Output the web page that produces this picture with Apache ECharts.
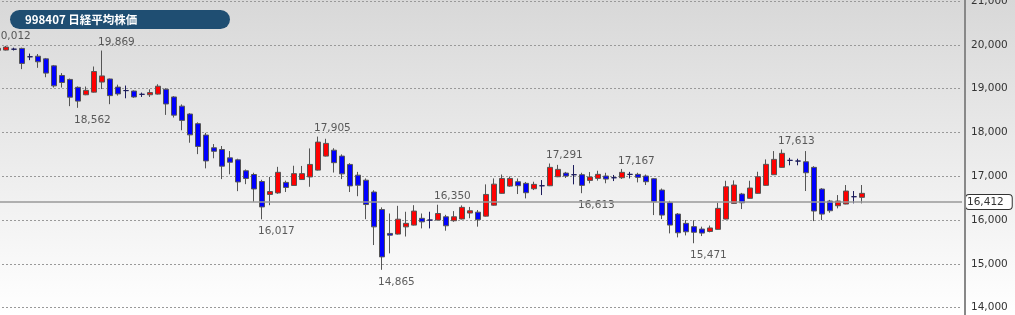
<!DOCTYPE html>
<html>
<head>
<meta charset="utf-8">
<script src="https://cdn.jsdelivr.net/npm/echarts@6/dist/echarts.min.js"></script>
<style>html,body{margin:0;padding:0;background:#fff}#c{width:1015px;height:315px}</style>
</head>
<body>
<div id="c"></div>
<script>
// OHLC values (one entry per candle)
const openP  = [19875,19880,19900,19918,19727,19740,19680,19520,19300,19210,19030,18860,18920,19150,19220,19035,18955,18945,18870,18860,18875,18985,18810,18600,18420,18200,17940,17650,17610,17420,17375,17125,17040,16880,16585,16620,16860,16790,16925,16985,17140,17460,17595,17460,17270,17025,16910,16640,16240,15695,15680,15845,15885,16040,16000,16000,16075,15985,16025,16160,16180,16090,16340,16610,16775,16875,16838,16715,16783,16783,16989,17073,17035,17035,16906,16952,17005,16966,16966,17043,17043,17005,16944,16685,16395,16137,15925,15850,15795,15740,15788,16023,16381,16594,16496,16610,16792,17035,17203,17363,17347,17331,17203,16708,16434,16327,16366,16533,16519];
const closeP = [19920,19948,19900,19575,19727,19613,19354,19063,19140,18805,18715,18960,19390,19290,18840,18880,18955,18810,18870,18910,19055,18650,18395,18275,17945,17680,17350,17570,17230,17320,16870,16950,16710,16300,16650,17090,16745,17060,17060,17270,17780,17750,17310,17055,16780,16795,16355,15845,15160,15655,16020,15925,16205,15960,16000,16150,15870,16075,16290,16213,16010,16585,16820,16950,16950,16785,16624,16815,16783,17203,17157,17005,17035,16792,16982,17043,16936,16966,17089,17043,16975,16875,16418,16114,15886,15710,15733,15722,15703,15820,16267,16760,16800,16395,16731,16989,17272,17385,17523,17363,17347,17080,16206,16137,16213,16434,16663,16533,16610];
const lowP   = [19860,19870,19870,19445,19650,19475,19260,19025,19025,18600,18562,18850,18910,18990,18645,18840,18780,18790,18810,18810,18865,18400,18340,18050,17765,17505,17180,17410,16935,17045,16660,16820,16415,16017,16340,16600,16640,16780,16915,16760,17130,17450,17085,16935,16640,16545,16020,15430,14865,15240,15670,15625,15875,15810,15810,15990,15757,15960,16015,16042,15850,16080,16330,16600,16760,16594,16495,16685,16571,16775,16980,16960,16815,16613,16838,16900,16840,16890,16940,16950,16860,16800,16114,16023,15696,15605,15650,15471,15635,15720,15780,16015,16370,16251,16490,16600,16785,17030,17195,17250,17250,16663,15977,16000,16167,16267,16360,16381,16381];
const highP  = [20012,19975,19935,19935,19800,19790,19700,19540,19354,19230,19050,19048,19505,19869,19230,19090,19070,18960,18910,18985,19100,19010,18830,18640,18440,18230,17990,17735,17690,17575,17400,17155,17080,16920,16985,17215,16900,17240,17235,17635,17905,17855,17640,17500,17300,17100,16950,16680,16290,16150,16325,16190,16340,16150,16190,16350,16120,16205,16335,16300,16230,16815,16950,17040,16995,16950,16870,16875,16913,17291,17260,17100,17256,17080,17096,17126,17080,17030,17167,17100,17080,17040,16960,16720,16440,16160,16000,15995,15850,15875,16395,16897,16906,16620,16897,17103,17385,17575,17613,17420,17400,17575,17230,16730,16460,16571,16800,16663,16800];

// Labelled highs / lows: candle index, value, side
const annotIdx  = [0, 13, 10, 40, 33, 48, 55, 69, 73, 78, 87, 98];
const annotVal  = [20012, 19869, 18562, 17905, 16017, 14865, 16350, 17291, 16613, 17167, 15471, 17613];
const annotSide = ['top','top','bottom','top','bottom','bottom','top','top','bottom','top','bottom','top'];

const currentPrice = 16412;
const slotCount = 121;
const yTicks = [14000, 21000, 1000]; // min, max, interval

const categories = Array.from({length: slotCount}, (_, i) => String(i));
const candleData = openP.map((o, i) => [o, closeP[i], lowP[i], highP[i]]);
const fmt = v => v.toLocaleString('en-US');

const chart = echarts.init(document.getElementById('c'), null, {renderer: 'canvas'});
const numFont = 'DejaVu Sans';

chart.setOption({
  animation: false,
  backgroundColor: new echarts.graphic.LinearGradient(0, 0, 0, 1, [
    {offset: 0, color: '#d8d8d8'}, {offset: 1, color: '#ffffff'}
  ]),
  grid: {left: -6, top: 1, width: 968, height: 306.7, outerBoundsMode: 'none', containLabel: false},
  xAxis: {
    type: 'category', data: categories, boundaryGap: true,
    axisLine: {show: false}, axisTick: {show: false}, axisLabel: {show: false}, splitLine: {show: false}
  },
  yAxis: {
    type: 'value', position: 'right', offset: 3,
    min: yTicks[0], max: yTicks[1], interval: yTicks[2],
    axisLine: {show: true, lineStyle: {color: '#888', width: 2}},
    axisTick: {show: false},
    axisLabel: {margin: 6, color: '#333', fontSize: 10.5, fontFamily: numFont, formatter: v => fmt(v)},
    splitLine: {show: true, lineStyle: {color: '#999', type: [2, 2], width: 1}}
  },
  graphic: [
    {type: 'line', silent: true, z: 100, shape: {x1: 965, y1: 0, x2: 965, y2: 315}, style: {stroke: '#888', lineWidth: 2}},
    {type: 'rect', z: 100, shape: {x: 10, y: 10, width: 220, height: 19, r: 9.5}, style: {fill: '#1f4e72'}},
    {type: 'text', z: 101, style: {x: 25, y: 19.5, text: '998407 日経平均株価', fill: '#fff',
      font: 'bold 11.5px "Noto Sans CJK JP"', verticalAlign: 'middle'}}
  ],
  series: [
    {
      type: 'candlestick',
      data: candleData,
      barWidth: 6,
      itemStyle: {
        color: '#ff0000', color0: '#0000ff',
        borderColor: '#555', borderColor0: '#555', borderColorDoji: '#1c1c5c', borderWidth: 1
      },
      markLine: {
        silent: true, symbol: 'none',
        lineStyle: {color: '#999', type: 'solid', width: 1.5},
        label: {
          show: true, position: 'end', distance: 4, formatter: () => fmt(currentPrice),
          color: '#333', fontSize: 10.5, fontFamily: numFont,
          backgroundColor: '#fff', borderColor: '#333', borderWidth: 1, borderRadius: 3,
          padding: [2, 8, 1, 1]
        },
        data: [{yAxis: currentPrice}]
      }
    },
    {
      type: 'scatter',
      symbolSize: 0,
      silent: true,
      data: annotIdx.map((idx, k) => ({
        value: [idx, annotVal[k]],
        label: {
          show: true, position: annotSide[k], distance: annotSide[k] === 'top' ? 2.5 : 6.5,
          align: 'left', offset: [-4, 0],
          formatter: () => fmt(annotVal[k]),
          color: '#333', fontSize: 10.5, fontFamily: numFont
        }
      }))
    }
  ]
});
</script>
</body>
</html>
